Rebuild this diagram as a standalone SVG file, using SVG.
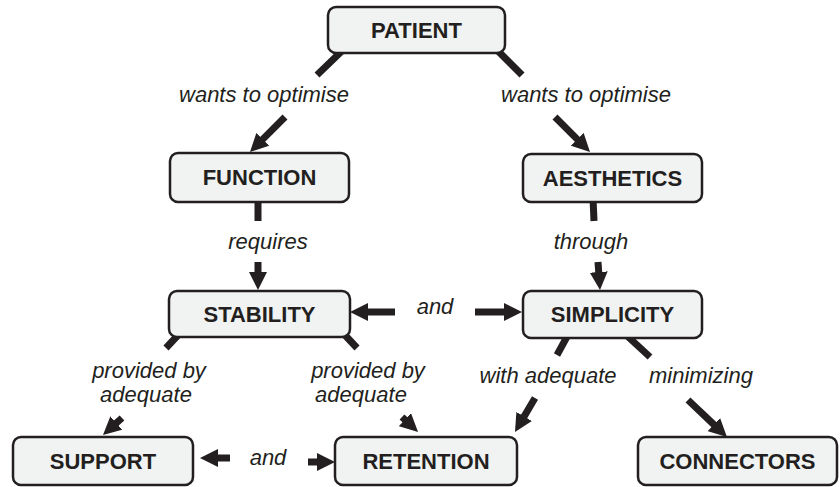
<svg xmlns="http://www.w3.org/2000/svg" width="840" height="487" viewBox="0 0 840 487">
<style>
.node rect{fill:#f1f2f2;stroke:#231f20;stroke-width:2.5}
.node text{font-family:"Liberation Sans",Arial,sans-serif;font-weight:bold;font-size:22px;fill:#231f20;text-anchor:middle}
.conn line{stroke:#231f20;stroke-width:7;fill:none}
.lbl{font-family:"Liberation Sans",Arial,sans-serif;font-style:italic;font-size:22px;fill:#231f20;text-anchor:middle}
</style>
<defs>
<marker id="ah" markerUnits="userSpaceOnUse" markerWidth="18" markerHeight="18" refX="4" refY="9" orient="auto" viewBox="0 0 18 18">
<path d="M0,0 L18,9 L0,18 z" fill="#231f20"/>
</marker>
</defs>
<rect width="840" height="487" fill="#ffffff"/>
<g id="connectors" class="conn">
<line x1="345" y1="48" x2="317" y2="75"/>
<line x1="285" y1="117" x2="259.9" y2="142.1" marker-end="url(#ah)"/>
<line x1="495" y1="48" x2="522" y2="75"/>
<line x1="555" y1="117" x2="580.1" y2="142.1" marker-end="url(#ah)"/>
<line x1="258" y1="198" x2="258" y2="221"/>
<line x1="258" y1="262" x2="258" y2="276" marker-end="url(#ah)"/>
<line x1="593" y1="198" x2="594" y2="221"/>
<line x1="598" y1="262" x2="599" y2="276" marker-end="url(#ah)"/>
<line x1="395" y1="312" x2="364" y2="312" marker-end="url(#ah)"/>
<line x1="475" y1="312" x2="508" y2="312" marker-end="url(#ah)"/>
<line x1="180" y1="333" x2="166" y2="348"/>
<line x1="122" y1="418" x2="113.4" y2="425.7" marker-end="url(#ah)"/>
<line x1="343" y1="333" x2="357" y2="348"/>
<line x1="402" y1="417" x2="407.8" y2="422.4" marker-end="url(#ah)"/>
<line x1="230" y1="458" x2="214" y2="458" marker-end="url(#ah)"/>
<line x1="308" y1="462" x2="321" y2="462" marker-end="url(#ah)"/>
<line x1="569" y1="333" x2="557" y2="355"/>
<line x1="535" y1="398" x2="522.1" y2="419.9" marker-end="url(#ah)"/>
<line x1="624" y1="333" x2="650" y2="357"/>
<line x1="688" y1="400" x2="716.8" y2="427.4" marker-end="url(#ah)"/>
</g>
<g id="labels">
<text class="lbl" x="264" y="102">wants to optimise</text>
<text class="lbl" x="586" y="102">wants to optimise</text>
<text class="lbl" x="268" y="249">requires</text>
<text class="lbl" x="591" y="249">through</text>
<text class="lbl" x="435" y="314">and</text>
<text class="lbl" x="149" y="378">provided by</text>
<text class="lbl" x="146" y="402">adequate</text>
<text class="lbl" x="368" y="378">provided by</text>
<text class="lbl" x="361" y="402">adequate</text>
<text class="lbl" x="548" y="383">with adequate</text>
<text class="lbl" x="701" y="383">minimizing</text>
<text class="lbl" x="268" y="465">and</text>
</g>
<g id="patient" class="node"><rect x="328" y="7" width="177" height="46" rx="8"/><text x="416.5" y="38">PATIENT</text></g>
<g id="function" class="node"><rect x="170" y="153" width="179" height="49" rx="8"/><text x="259.5" y="185">FUNCTION</text></g>
<g id="aesthetics" class="node"><rect x="523" y="154" width="179" height="48" rx="8"/><text x="612.5" y="186">AESTHETICS</text></g>
<g id="stability" class="node"><rect x="169" y="291" width="181" height="46" rx="8"/><text x="259.5" y="322">STABILITY</text></g>
<g id="simplicity" class="node"><rect x="523" y="291" width="179" height="47" rx="8"/><text x="612.5" y="322">SIMPLICITY</text></g>
<g id="support" class="node"><rect x="13" y="437" width="180" height="48" rx="8"/><text x="103" y="469">SUPPORT</text></g>
<g id="retention" class="node"><rect x="335" y="437" width="182" height="48" rx="8"/><text x="426" y="469">RETENTION</text></g>
<g id="connectors-node" class="node"><rect x="638" y="437" width="199" height="48" rx="8"/><text x="737.5" y="469">CONNECTORS</text></g>
</svg>
